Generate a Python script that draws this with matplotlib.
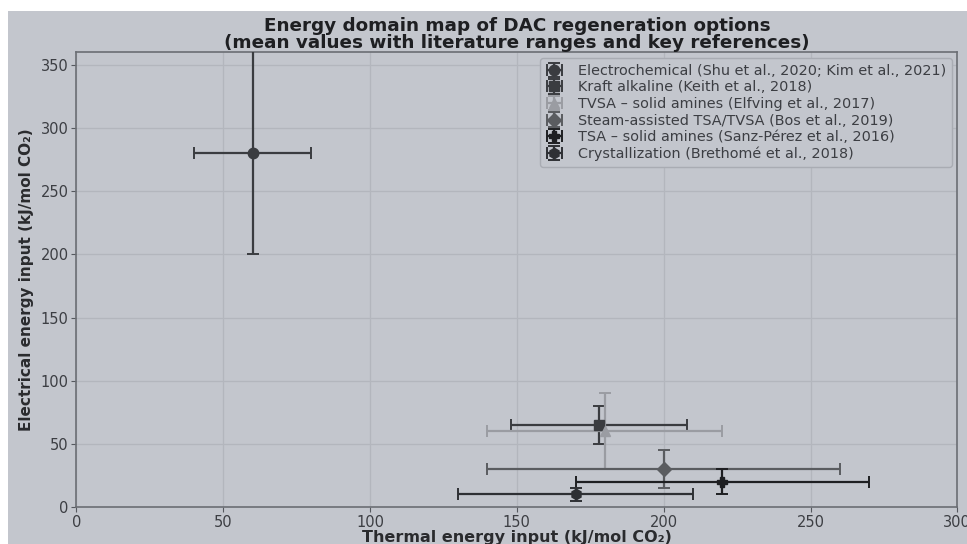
import numpy as np
import matplotlib.pyplot as plt
from matplotlib.patches import Rectangle

# regeneration options: mean thermal / electrical energy and literature ranges (kJ/mol CO2)
labels = [
    "Electrochemical (Shu et al., 2020; Kim et al., 2021)",
    "Kraft alkaline (Keith et al., 2018)",
    "TVSA \u2013 solid amines (Elfving et al., 2017)",
    "Steam-assisted TSA/TVSA (Bos et al., 2019)",
    "TSA \u2013 solid amines (Sanz-P\u00e9rez et al., 2016)",
    "Crystallization (Brethom\u00e9 et al., 2018)",
]
thermal_mean = [60, 178, 180, 200, 220, 170]
thermal_low = [40, 148, 140, 140, 170, 130]
thermal_high = [80, 208, 220, 260, 270, 210]
elec_mean = [280, 65, 60, 30, 20, 10]
elec_low = [200, 50, 30, 15, 10, 5]
elec_high = [400, 80, 90, 45, 30, 15]

markers = ["o", "s", "^", "D", "P", "h"]
colors = ["#3a3c40", "#3a3c40", "#9a9ca2", "#5a5c60", "#1e1f22", "#2e3034"]

bg = "#c3c6cd"
plt.rcParams["font.family"] = "DejaVu Sans"

fig = plt.figure(figsize=(9.67, 5.44), dpi=100, facecolor=bg)
ax = fig.add_axes([0.079, 0.068, 0.911, 0.836], facecolor=bg)

for i in range(len(labels)):
    xm, ym = thermal_mean[i], elec_mean[i]
    xerr = [[xm - thermal_low[i]], [thermal_high[i] - xm]]
    yerr = [[ym - elec_low[i]], [elec_high[i] - ym]]
    ax.errorbar([xm], [ym], xerr=xerr, yerr=yerr, fmt=markers[i], color=colors[i],
                ecolor=colors[i], markersize=7.5, elinewidth=1.6, capsize=4,
                capthick=1.4, label=labels[i], zorder=3)

ax.set_xlim(0, 300)
ax.set_ylim(0, 360)
ax.set_xticks(np.arange(0, 301, 50))
ax.set_yticks(np.arange(0, 351, 50))
ax.grid(True, color="#b3b6bd", linewidth=0.9, zorder=0)
for s in ax.spines.values():
    s.set_color("#6b6e74")
    s.set_linewidth(1.2)
ax.tick_params(colors="#55585e", labelcolor="#3c3e43", labelsize=10.5, pad=2)

ax.set_xlabel("Thermal energy input (kJ/mol CO\u2082)", fontsize=11.5, fontweight="bold",
              color="#2a2b2e", labelpad=0)
ax.set_ylabel("Electrical energy input (kJ/mol CO\u2082)", fontsize=11, fontweight="bold",
              color="#2a2b2e", labelpad=5)
ax.set_title("Energy domain map of DAC regeneration options\n"
             "(mean values with literature ranges and key references)",
             fontsize=13.2, fontweight="bold", color="#1e1f22", pad=3, linespacing=0.9)

leg = ax.legend(loc="upper right", fontsize=10.4, frameon=True, borderpad=0.4,
                handlelength=1.2, handletextpad=1.0, labelspacing=0.18,
                borderaxespad=0.4)
leg.get_frame().set_facecolor(bg)
leg.get_frame().set_edgecolor("#a9acb3")
leg.get_frame().set_alpha(1)
for t in leg.get_texts():
    t.set_color("#3c3e43")

# white strips along the top and left edge
fig.add_artist(Rectangle((0, 0.979), 1, 0.021, transform=fig.transFigure,
                         facecolor="white", edgecolor="none", zorder=10))
fig.add_artist(Rectangle((0, 0), 0.008, 1, transform=fig.transFigure,
                         facecolor="white", edgecolor="none", zorder=10))

plt.savefig("out.png", dpi=100, facecolor=bg)
